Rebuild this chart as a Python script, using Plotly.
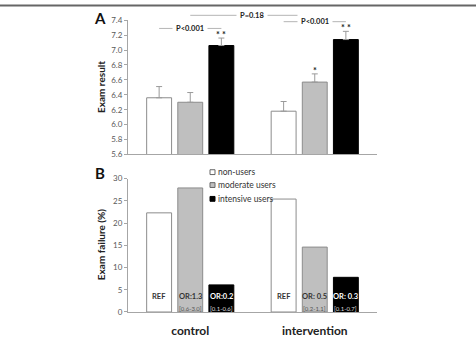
import plotly.graph_objects as go

# ---------------- data ----------------
groups = ["control", "intervention"]
series_names = ["non-users", "moderate users", "intensive users"]

result_non = [6.36, 6.18]
result_mod = [6.30, 6.57]
result_int = [7.06, 7.14]
err_non = [0.15, 0.13]
err_mod = [0.13, 0.11]
err_int = [0.10, 0.11]
stars_non = ["", ""]
stars_mod = ["", "*"]
stars_int = ["* *", "* *"]

fail_non = [22.3, 25.4]
fail_mod = [27.9, 14.6]
fail_int = [6.1, 7.8]
or_non = ["REF", "REF"]
or_mod = ["OR:1.3", "OR: 0.5"]
or_int = ["OR:0.2", "OR: 0.3"]
ci_non = ["", ""]
ci_mod = ["[0.6-3.0]", "[0.2-1.1]"]
ci_int = ["[0.1-0.6]", "[0.1-0.7]"]

a_ticks = [5.6, 5.8, 6.0, 6.2, 6.4, 6.6, 6.8, 7.0, 7.2, 7.4]
b_ticks = [0, 5, 10, 15, 20, 25, 30]

# ---------------- styling ----------------
W, H = 476, 338
FONT = "Lato"
fills = ["#ffffff", "#bfbfbf", "#000000"]
outlines = ["#8c8c8c", "#8c8c8c", "#000000"]
offsets = [-0.25, 0.0, 0.25]
XDOM = [128 / W, 377 / W]
YDOM_A = [1 - 155 / H, 1 - 15.7 / H]
YDOM_B = [1 - 318.3 / H, 1 - 180 / H]
XRANGE = [-0.5, 1.5]


def xpaper(pos):
    return XDOM[0] + (pos - XRANGE[0]) / (XRANGE[1] - XRANGE[0]) * (XDOM[1] - XDOM[0])


fig = go.Figure()

results = [result_non, result_mod, result_int]
errs = [err_non, err_mod, err_int]
fails = [fail_non, fail_mod, fail_int]

for i in range(3):
    fig.add_trace(go.Bar(
        x=groups, y=results[i], name=series_names[i],
        marker=dict(color=fills[i], line=dict(color=outlines[i], width=1)),
        error_y=dict(type="data", symmetric=False, array=errs[i],
                     arrayminus=[0] * len(errs[i]), color="#9a9a9a",
                     thickness=1, width=3),
        xaxis="x", yaxis="y", showlegend=False,
    ))
    fig.add_trace(go.Bar(
        x=groups, y=fails[i], name=series_names[i],
        marker=dict(color=fills[i], line=dict(color=outlines[i], width=1)),
        xaxis="x2", yaxis="y2", showlegend=False,
    ))

axis_common = dict(showline=True, linecolor="#a6a6a6", linewidth=1,
                   ticks="outside", ticklen=3, tickcolor="#a6a6a6",
                   tickfont=dict(family=FONT, size=8, color="#595959"),
                   showgrid=False, zeroline=False)

fig.update_layout(
    width=W, height=H,
    margin=dict(l=0, r=0, t=0, b=0),
    paper_bgcolor="white", plot_bgcolor="white",
    barmode="group", bargap=0.25, bargroupgap=0.2,
    xaxis=dict(domain=XDOM, anchor="y", type="category", range=XRANGE,
               showline=True, linecolor="#a6a6a6", ticks="", showticklabels=False,
               showgrid=False, zeroline=False),
    yaxis=dict(domain=YDOM_A, anchor="x", range=[5.6, 7.4], tickvals=a_ticks,
               tickformat=".1f", **axis_common),
    xaxis2=dict(domain=XDOM, anchor="y2", type="category", range=XRANGE,
                showline=True, linecolor="#a6a6a6", ticks="",
                tickfont=dict(family=FONT, size=12, color="#222222", weight="bold"),
                ticklabelstandoff=8, showgrid=False, zeroline=False),
    yaxis2=dict(domain=YDOM_B, anchor="x2", range=[0, 30], tickvals=b_ticks,
                **axis_common),
    showlegend=False,
)

ann = []


def add_ann(**kw):
    kw.setdefault("xanchor", "center")
    kw.setdefault("yanchor", "middle")
    kw.setdefault("showarrow", False)
    ann.append(kw)


# Panel letters and y titles
add_ann(text="<b>A</b>", x=99.5 / W, y=1 - 13 / H, xref="paper", yref="paper",
        font=dict(family=FONT, size=15, color="#111"))
add_ann(text="<b>B</b>", x=100 / W, y=1 - 174 / H, xref="paper", yref="paper",
        font=dict(family=FONT, size=15, color="#111"))
add_ann(text="<b>Exam result</b>", x=101 / W, y=1 - 85 / H, xref="paper", yref="paper",
        textangle=-90, font=dict(family=FONT, size=10, color="#222"))
add_ann(text="<b>Exam failure (%)</b>", x=101 / W, y=1 - 249 / H, xref="paper", yref="paper",
        textangle=-90, font=dict(family=FONT, size=10, color="#222"))

# significance stars
stars = [stars_non, stars_mod, stars_int]
for i in range(3):
    for g in range(2):
        if stars[i][g]:
            add_ann(text="<b>" + stars[i][g] + "</b>", x=g + offsets[i],
                    y=results[i][g] + errs[i][g], xref="x", yref="y",
                    yanchor="bottom", yshift=-4,
                    font=dict(family=FONT, size=9, color="#222"))

# p-value brackets
brackets = [
    (0 + offsets[0], 0 + offsets[2], 24.3, "P<0.001"),
    (0 + offsets[1], 1 + offsets[1], 10.7, "P=0.18"),
    (1 + offsets[0], 1 + offsets[2], 17.3, "P<0.001"),
]
shapes = []
for x0, x1, ypx, label in brackets:
    yp = 1 - ypx / H
    shapes.append(dict(type="line", xref="paper", yref="paper", x0=xpaper(x0), x1=xpaper(x1),
                       y0=yp, y1=yp, line=dict(color="#b5b5b5", width=1)))
    add_ann(text="<b>" + label + "</b>", x=(xpaper(x0) + xpaper(x1)) / 2, y=yp,
            xref="paper", yref="paper", bgcolor="white",
            borderpad=3, font=dict(family=FONT, size=7.5, color="#222"))

# in-bar OR labels
ors = [or_non, or_mod, or_int]
cis = [ci_non, ci_mod, ci_int]
main_col = ["#333333", "#333333", "#ffffff"]
ci_col = ["#555555", "#555555", "#dddddd"]
for i in range(3):
    for g in range(2):
        add_ann(text="<b>" + ors[i][g] + "</b>", x=g + offsets[i], y=3.47,
                xref="x2", yref="y2",
                font=dict(family=FONT, size=7.5, color=main_col[i]))
        if cis[i][g]:
            add_ann(text=cis[i][g], x=g + offsets[i], y=0.87,
                    xref="x2", yref="y2",
                    font=dict(family=FONT, size=6, color=ci_col[i]))

# custom legend
leg_y = [173.3, 186.7, 201.0]
for i in range(3):
    yc = 1 - leg_y[i] / H
    shapes.append(dict(type="rect", xref="paper", yref="paper",
                       x0=210 / W, x1=215 / W, y0=yc - 2.5 / H, y1=yc + 2.5 / H,
                       fillcolor=fills[i], line=dict(color="#666666" if i < 2 else "#000", width=1)))
    add_ann(text=series_names[i], x=216 / W, y=yc, xref="paper", yref="paper",
            xanchor="left", font=dict(family=FONT, size=8.5, color="#333"))

# top frame line
shapes.append(dict(type="line", xref="paper", yref="paper", x0=0, x1=1, y0=1 - 0.5 / H, y1=1 - 0.5 / H,
                   line=dict(color="#666666", width=2)))

fig.update_layout(annotations=ann, shapes=shapes)
fig.write_html("out.html")
